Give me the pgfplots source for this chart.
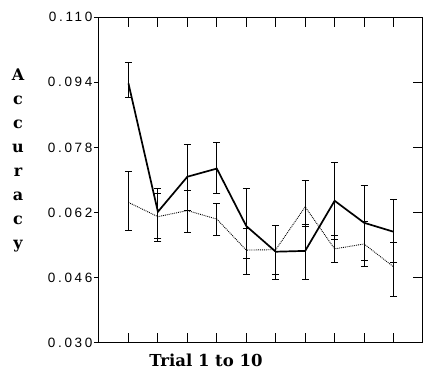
\documentclass[border=0pt]{standalone}
\usepackage{fontspec}
\usepackage{pgfplots}
\usepackage{pgfplotstable}
\pgfplotsset{compat=1.18}
\newfontfamily\ticksfont[LetterSpace=20]{Liberation Sans}
\newfontfamily\labelfont{DejaVu Serif}
\pgfplotstableread{
x y ep em
1 0.0937 0.0051 0.0034
2 0.0622 0.0056 0.0066
3 0.0708 0.0078 0.0082
4 0.0728 0.0064 0.0061
5 0.0587 0.0091 0.0079
6 0.0524 0.0064 0.0068
7 0.0526 0.0066 0.0069
8 0.0649 0.0094 0.0094
9 0.0595 0.0091 0.0093
10 0.0573 0.0078 0.0076
}\solidtab
\pgfplotstableread{
x y ep em
1 0.0645 0.0075 0.0070
2 0.0610 0.0056 0.0062
3 0.0625 0.0050 0.0054
4 0.0604 0.0039 0.0039
5 0.0528 0.0053 0.0059
6 0.0529 0.0059 0.0060
7 0.0634 0.0064 0.0049
8 0.0531 0.0032 0.0033
9 0.0543 0.0056 0.0056
10 0.0487 0.0060 0.0072
}\dottedtab
\begin{document}
\begin{tikzpicture}
\begin{axis}[
  scale only axis, width=324pt, height=326pt,
  xmin=0, xmax=11, ymin=0.030, ymax=0.110,
  axis line style={line width=1pt},
  xtick={1,...,10}, xticklabels={},
  ytick={0.030,0.046,0.062,0.078,0.094,0.110},
  tick align=inside, major tick length=10pt,
  tick style={line width=1pt, black},
  xtick pos=both, ytick pos=right, yticklabel pos=left,
  /pgf/number format/assume math mode=true,
  yticklabel style={font=\ticksfont\fontsize{13.5}{13.5}\selectfont, xshift=-3pt, /pgf/number format/.cd, fixed, fixed zerofill, precision=3},
  xlabel={Trial 1 to 10},
  xlabel style={at={(axis description cs:0.33,0)}, anchor=north, yshift=-11pt, inner sep=0pt, font=\labelfont\bfseries\fontsize{16.5}{16.5}\selectfont},
  ylabel={A\\c\\c\\u\\r\\a\\c\\y},
  ylabel style={rotate=-90, at={(axis description cs:-0.25,0.56)}, anchor=center, align=center, inner sep=0pt, font=\labelfont\bfseries\fontsize{16}{24}\selectfont},
]
\addplot[black, line width=0.9pt, densely dotted, mark=none,
  error bars/.cd, y dir=both, y explicit,
  error bar style={line width=1pt, solid},
  error mark options={rotate=90, mark size=3.5pt, line width=1pt, solid}]
  table[x=x, y=y, y error plus=ep, y error minus=em]{\dottedtab};
\addplot[black, line width=1.7pt, mark=none,
  error bars/.cd, y dir=both, y explicit,
  error bar style={line width=1pt, solid},
  error mark options={rotate=90, mark size=3.5pt, line width=1pt, solid}]
  table[x=x, y=y, y error plus=ep, y error minus=em]{\solidtab};
\end{axis}
\begin{axis}[
  scale only axis, width=324pt, height=326pt,
  xmin=0, xmax=11, ymin=0.030, ymax=0.110,
  axis line style={draw=none},
  xtick=\empty,
  ytick={0.030,0.046,0.062,0.078,0.094,0.110}, yticklabels={},
  tick align=outside, major tick length=5pt,
  tick style={line width=1pt, black},
  ytick pos=left,
]
\end{axis}
\path ([shift={(-99pt,-27pt)}]current axis.south west) rectangle ([shift={(1pt,17pt)}]current axis.north east);
\end{tikzpicture}
\end{document}
